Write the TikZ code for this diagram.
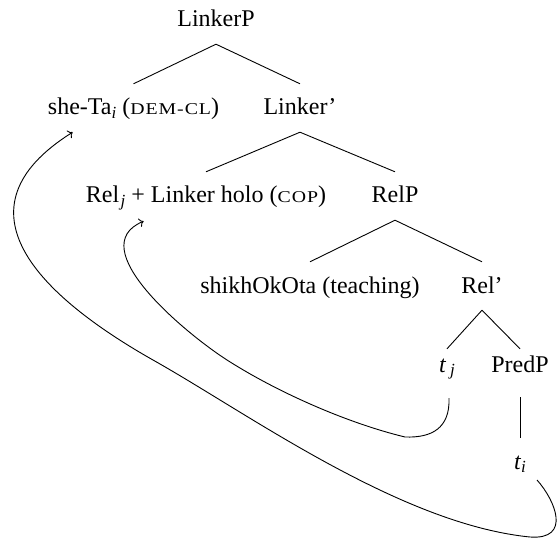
\documentclass[tikz,border=0pt]{standalone}
\usepackage{fontspec}
\usepackage{graphicx}
\setmainfont{Liberation Serif}
\newfontfamily\scfnt[LetterSpace=5]{Liberation Serif}
\usetikzlibrary{calc,arrows.meta}
\newcommand\fsc[1]{\scalebox{1.2}[1]{\scfnt\fontsize{16.5}{16.5}\selectfont #1}}
\newcommand\lowsub[1]{\raisebox{-0.15em}{\fontsize{17}{17}\selectfont\itshape #1}}
\begin{document}
\begin{tikzpicture}[x=1pt,y=-1pt,
  every node/.style={font=\fontsize{24}{28}\selectfont},
  tn/.style={anchor=base, text height=18pt, text depth=4pt, inner ysep=13pt, inner xsep=2pt},
  br/.style={line width=0.9pt},
  mv/.style={line width=0.9pt, -{To[length=4.5pt,width=9pt]}}]
\useasboundingbox (0,0) rectangle (559,548);
\node[tn] (lp) at (216,27) {LinkerP};
\node[tn] (sheta) at (133.5,115) {she-Ta\lowsub{i} (\fsc{DEM-CL})};
\node[tn] (lbar) at (300,115) {Linker'};
\node[tn] (rel) at (206,203) {Rel\kern1.5pt\lowsub{j} + Linker holo (\fsc{COP})};
\node[tn] (relp) at (395,203) {RelP};
\node[tn] (shikh) at (310,293) {shikhOkOta (teaching)};
\node[tn] (relbar) at (482,293) {Rel'};
\node[tn, text height=10pt] (tj) at (447,372) {\textit{t}\,\lowsub{j}};
\node[tn, text height=10pt, text depth=12pt] (predp) at (520,372) {PredP};
\node[tn] (ti) at (520,469) {\textit{t}\lowsub{i}};
\draw[br] (lp.south) -- (sheta.north);
\draw[br] (lp.south) -- (lbar.north);
\draw[br] (lbar.south) -- (rel.north);
\draw[br] (lbar.south) -- (relp.north);
\draw[br] (relp.south) -- (shikh.north);
\draw[br] (relp.south) -- (relbar.north);
\draw[br] (relbar.south) -- (tj.north);
\draw[br] (relbar.south) -- (predp.north);
\draw[br] (predp.south) -- (ti.north);
\draw[mv] ($(ti.center)+(17,18)$) .. controls (555,500) and (572,540) .. (530,537)
   .. controls (400,524) and (249,414) .. (153,360)
   .. controls (40,296) and (-50,209) .. ($(sheta.south west)+(27,0)$);
\draw[mv] ($(tj.south)+(2,9)$) .. controls (450,428) and (432,438) .. (405,437)
   .. controls (347,423) and (277,392) .. (227,360)
   .. controls (185,333) and (81.5,247) .. ($(rel.south west)+(60,1)$);
\end{tikzpicture}
\end{document}
